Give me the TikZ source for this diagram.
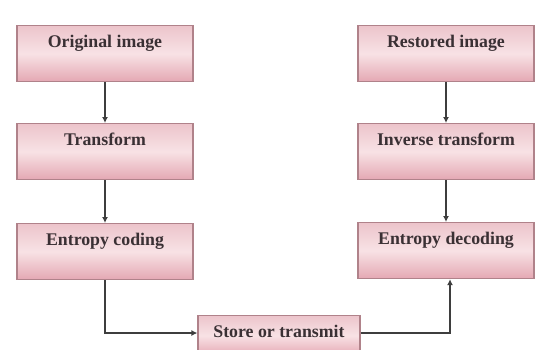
\documentclass[tikz,border=0pt]{standalone}
\usepackage{fontspec}
\setmainfont{Liberation Serif}
\usetikzlibrary{arrows.meta,calc}
\definecolor{boxtop}{RGB}{236,196,203}
\definecolor{boxmid}{RGB}{248,226,229}
\definecolor{boxbot}{RGB}{228,168,179}
\definecolor{boxline}{RGB}{176,130,138}
\definecolor{ink}{RGB}{58,48,52}
\definecolor{wire}{RGB}{62,62,62}
\tikzset{
  x=1pt, y=-1pt,
  stage/.style={rectangle, draw=boxline, line width=1.2pt,
    top color=boxtop, bottom color=boxbot, middle color=boxmid,
    minimum width=176pt, inner sep=0pt,
    text height=22pt, text depth=34pt,
    font=\bfseries\fontsize{17.8}{20}\selectfont, text=ink},
  storebox/.style={stage, minimum width=162pt, text depth=18pt},
  flow/.style={draw=wire, line width=1.4pt, -{Latex[length=6pt,width=6pt]}}
}
\begin{document}
\begin{tikzpicture}
\useasboundingbox (0,0) rectangle (537,349);
\clip (0,0) rectangle (537,349);
% compression chain
\node[stage] (orig) at (105,25) [anchor=north] {Original image};
\node[stage] (tr)   at (105,123) [anchor=north] {Transform};
\node[stage] (enc)  at (105,223) [anchor=north] {Entropy coding};
% decompression chain
\node[stage] (rest) at (446,25) [anchor=north] {Restored image};
\node[stage] (itr)  at (446,123) [anchor=north] {Inverse transform};
\node[stage] (dec)  at (446,222) [anchor=north] {Entropy decoding};
% channel
\node[storebox] (store) at (279,315) [anchor=north] {Store or transmit};
% connectors
\draw[flow] (orig) -- (tr);
\draw[flow] (tr) -- (enc);
\draw[flow] (rest) -- (itr);
\draw[flow] (itr) -- (dec);
\draw[flow] (enc.south) |- ($(store.north west)+(0,18)$);
\draw[flow] ($(store.north east)+(0,18)$) -| ($(dec.south)+(4,0)$);
\end{tikzpicture}
\end{document}
